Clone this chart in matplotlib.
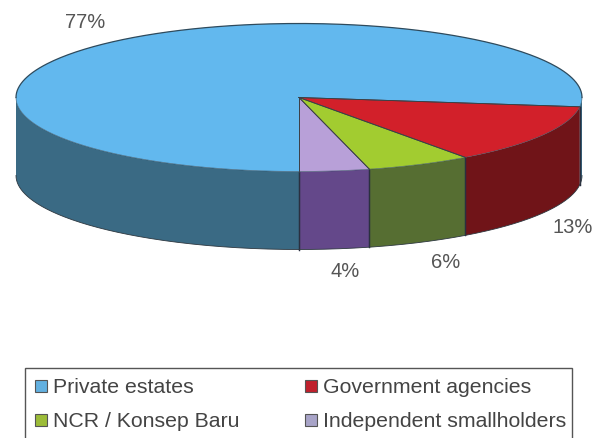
import numpy as np
import matplotlib
matplotlib.use("Agg")
import matplotlib.pyplot as plt
from matplotlib.patches import Polygon, Rectangle

plt.rcParams['font.family'] = ['Liberation Sans', 'DejaVu Sans']

labels = ["Private estates", "Government agencies", "NCR / Konsep Baru", "Independent smallholders"]
shares = [77, 13, 6, 4]
share_labels = ["77%", "13%", "6%", "4%"]
top_colors = ["#62b8ee", "#d2202a", "#a2cc30", "#b8a0d8"]
side_colors = ["#3a6a84", "#701418", "#566e32", "#64488a"]
legend_colors = ["#62b0e0", "#c0202c", "#9cbc38", "#a8a4c8"]

W, H = 601, 439
cx, cy = 299, 98.5
rx, ry = 283, 74
depth = 78

fig = plt.figure(figsize=(W / 100, H / 100), dpi=100)
ax = fig.add_axes([0, 0, 1, 1])
ax.set_xlim(0, W)
ax.set_ylim(H, 0)
ax.axis("off")


def rim(a0, a1):
    t = np.radians(np.linspace(a0, a1, 200))
    return cx + rx * np.cos(t), cy + ry * np.sin(t)


# wedges go clockwise on screen; the largest one starts at the 6 o'clock seam
angles = [90]
for s in shares:
    angles.append(angles[-1] + s * 3.6)

# side walls (only the front half, sin > 0)
for i in range(len(shares)):
    a0 = angles[i]
    a1 = angles[i + 1]
    for lo, hi in [(a0, a1), (a0 - 360, a1 - 360)]:
        lo2, hi2 = max(lo, 0), min(hi, 180)
        if hi2 <= lo2:
            continue
        x, y = rim(lo2, hi2)
        pts = np.vstack([np.column_stack([x, y]), np.column_stack([x[::-1], y[::-1] + depth])])
        ax.add_patch(Polygon(pts, closed=True, fc=side_colors[i], ec="none", zorder=2))
        # dark seams between wall sections, skipping the outer silhouette
        for ang, sx, sy in [(lo2, x[0], y[0]), (hi2, x[-1], y[-1])]:
            if 0 < ang < 180:
                ax.plot([sx, sx], [sy, sy + depth], color="#2a3040", lw=0.9, zorder=2.5)
        ax.plot(x, y + depth, color="#2e3840", lw=0.6, zorder=2.6)

# top faces
for i in range(len(shares)):
    x, y = rim(angles[i], angles[i + 1])
    pts = np.vstack([[cx, cy], np.column_stack([x, y])])
    ax.add_patch(Polygon(pts, closed=True, fc=top_colors[i], ec="none", zorder=3))
    for k in (0, -1):
        ax.plot([cx, x[k]], [cy, y[k]], color="#3a3f45", lw=0.6, zorder=3.5)

# rim outline, heavier along the back edge
x, y = rim(180, 360)
ax.plot(x, y, color="#2e4a5c", lw=0.9, zorder=3.6)
x, y = rim(0, 180)
ax.plot(x, y, color="#2e4a5c", lw=0.5, alpha=0.7, zorder=3.6)

# percent labels
label_pos = [(85, 23), (573, 228), (446, 263), (345, 272)]
for txt, (lx, ly) in zip(share_labels, label_pos):
    ax.text(lx, ly, txt, fontsize=14.5, color="#555555", ha="center", va="center")

# legend box
ax.add_patch(Rectangle((25, 369), 547, 72, fc="white", ec="#555555", lw=1.0, zorder=1))
legend_pos = [(35, 388), (305, 388), (35, 422), (305, 422)]
for name, col, (lx, ly) in zip(labels, legend_colors, legend_pos):
    ax.add_patch(Rectangle((lx, ly - 7), 12, 12, fc=col, ec="#555555", lw=0.8, zorder=2))
    ax.text(lx + 18, ly, name, fontsize=15.3, color="#444444", ha="left", va="center")

fig.savefig("out.png", dpi=100)
